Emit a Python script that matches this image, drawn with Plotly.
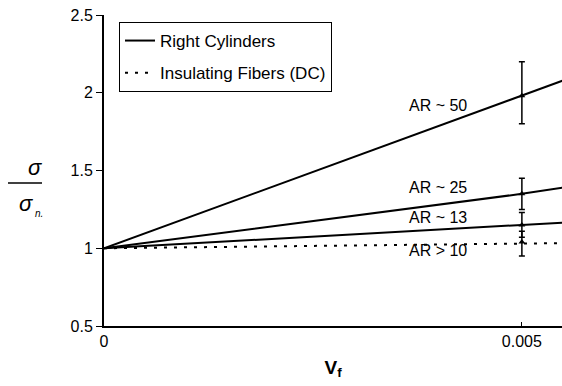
import plotly.graph_objects as go

# ---- data ----
x_line = [0, 0.005, 0.0055]
ar50 = [1.0, 1.98, 2.08]
ar25 = [1.0, 1.35, 1.39]
ar13 = [1.0, 1.15, 1.165]
dc10 = [1.0, 1.03, 1.033]

pt_x = [0.005, 0.005, 0.005, 0.005]
pt_y = [1.98, 1.35, 1.15, 1.04]
err_plus = [0.22, 0.10, 0.08, 0.07]
err_minus = [0.18, 0.10, 0.08, 0.09]

ar_labels = ["AR ~ 50", "AR ~ 25", "AR ~ 13", "AR > 10"]
ar_label_x = [0.004, 0.004, 0.004, 0.004]
ar_label_y = [1.92, 1.392, 1.2, 0.987]

x_ticks = [0, 0.005]
x_ticktext = ["0", "0.005"]
y_ticks = [0.5, 1, 1.5, 2, 2.5]
y_ticktext = ["0.5", "1", "1.5", "2", "2.5"]

FONT = "Liberation Sans, Arial, sans-serif"
W, H = 562, 386
L, R, T, B = 104, 0, 15, 60

def px(xp):
    return (xp - L) / (W - L - R)

def py(yp):
    return (H - B - yp) / (H - T - B)

fig = go.Figure()
line_style = dict(color="black", width=2)
fig.add_trace(go.Scatter(x=x_line, y=ar50, mode="lines", line=line_style,
                         name="Right Cylinders", legendgroup="a"))
fig.add_trace(go.Scatter(x=x_line, y=ar25, mode="lines", line=line_style,
                         showlegend=False, legendgroup="a"))
fig.add_trace(go.Scatter(x=x_line, y=ar13, mode="lines", line=line_style,
                         showlegend=False, legendgroup="a"))
fig.add_trace(go.Scatter(x=x_line, y=dc10, mode="lines",
                         line=dict(color="black", width=2, dash="3px,7px"),
                         name="Insulating Fibers (DC)", legendgroup="b"))
fig.add_trace(go.Scatter(x=pt_x, y=pt_y, mode="markers",
                         marker=dict(symbol="triangle-up", size=6, color="black"),
                         error_y=dict(type="data", array=err_plus, arrayminus=err_minus,
                                      color="black", thickness=1.5, width=3),
                         showlegend=False, cliponaxis=False))

for t, xv, yv in zip(ar_labels, ar_label_x, ar_label_y):
    fig.add_annotation(x=xv, y=yv, text=t, showarrow=False,
                       font=dict(family=FONT, size=16, color="black"))

# y-axis label as a fraction sigma / sigma_n
fig.add_annotation(xref="paper", yref="paper", x=px(26), y=py(167), text="<i>σ</i>",
                   showarrow=False, font=dict(family=FONT, size=22, color="black"))
fig.add_annotation(xref="paper", yref="paper", x=px(17), y=py(203), text="<i>σ</i>",
                   showarrow=False, font=dict(family=FONT, size=22, color="black"))
fig.add_annotation(xref="paper", yref="paper", x=px(33), y=py(213), text="<i>n.</i>",
                   showarrow=False, font=dict(family=FONT, size=10, color="black"))
fig.add_shape(type="line", xref="paper", yref="paper", x0=px(8), x1=px(42),
              y0=py(183), y1=py(183), line=dict(color="black", width=1.5))

fig.update_layout(
    width=W, height=H,
    margin=dict(l=L, r=R, t=T, b=B, autoexpand=False),
    paper_bgcolor="white", plot_bgcolor="white",
    font=dict(family=FONT, size=16, color="black"),
    showlegend=True,
    legend=dict(x=px(119), y=py(22), xanchor="left", yanchor="top",
                bordercolor="black", borderwidth=1, bgcolor="white",
                font=dict(family=FONT, size=17, color="black"),
                tracegroupgap=7, traceorder="grouped", itemwidth=30),
    xaxis=dict(range=[0, 0.00548], tickvals=x_ticks, ticktext=x_ticktext,
               ticks="inside", ticklen=4, tickcolor="black", showgrid=False,
               zeroline=False, showline=True, linecolor="black", linewidth=2,
               automargin=False,
               title=dict(text="<b>V<sub>f</sub></b>", font=dict(size=19), standoff=11)),
    yaxis=dict(range=[0.5, 2.5], tickvals=y_ticks, ticktext=y_ticktext,
               ticks="outside", ticklen=6, tickcolor="black", showgrid=False,
               zeroline=False, showline=True, linecolor="black", linewidth=2,
               automargin=False),
)

fig.write_html("out.html", config={"displayModeBar": False},
               post_script="document.body.style.margin='0';document.body.style.overflow='hidden';")
